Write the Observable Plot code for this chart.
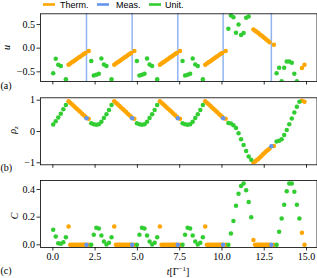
<!DOCTYPE html>
<html><head><meta charset="utf-8">
<script src="https://cdn.jsdelivr.net/npm/d3@7"></script>
<script src="https://cdn.jsdelivr.net/npm/@observablehq/plot@0.6"></script>
<style>
body{margin:0;background:#fff;}
#fig{position:relative;width:317px;height:278px;overflow:hidden;background:#fff;}
#fig svg{position:absolute;left:0;}
</style></head><body><div id="fig"></div>
<script>
// ---- data ----
const seriesNames = ["Therm.", "Meas.", "Unit."];
const xTicks = [0, 2.5, 5, 7.5, 10, 12.5, 15];
const uTicks = [-0.5, 0, 0.5];
const rhoTicks = [-1, 0, 1];
const cTicks = [0, 0.2, 0.4];

const unitT = [
 0.02,0.17,0.32,0.47,0.62,0.77,
 2.27,2.42,2.57,2.72,2.87,3.02,3.17,3.32,3.47,
 4.97,5.12,5.27,5.42,5.57,5.72,5.87,6.02,6.17,
 7.67,7.82,7.97,8.12,8.27,8.42,8.57,8.72,8.87,
 10.38,10.53,10.68,10.83,10.98,11.13,11.28,11.43,11.58,11.73,
 13.23,13.38,13.53,13.68,13.83,13.98,14.13,14.28,14.43,14.58];
const unitU = [
 -0.53,-0.225,-0.35,-0.38,null,-0.66,
 -0.27,-0.58,-0.56,-0.54,-0.22,-0.345,-0.38,null,-0.66,
 -0.27,-0.58,-0.56,-0.54,-0.22,-0.345,-0.38,null,-0.66,
 -0.27,-0.58,-0.56,-0.54,-0.22,-0.345,-0.38,null,-0.66,
 0.41,0.69,0.655,0.325,0.50,0.28,0.32,0.64,0.67,null,
 -0.53,-0.415,-0.70,-0.415,-0.28,-0.28,-0.31,-0.54,-0.70,null];
const unitRho = [
 0.22,0.33,0.45,0.565,0.71,0.85,
 0.26,0.235,0.215,0.235,0.31,0.43,0.555,0.69,0.85,
 0.26,0.235,0.215,0.235,0.31,0.43,0.555,0.69,0.85,
 0.26,0.235,0.215,0.235,0.31,0.43,0.555,0.69,0.85,
 0.27,0.256,0.20,0.11,-0.06,-0.245,-0.435,-0.62,-0.80,-0.905,
 -0.32,-0.30,-0.245,-0.115,0.045,0.235,0.415,0.61,0.79,0.95];
const unitC = [
 0.108,0.06,0.012,0.007,0.019,0.055,
 0.0,0.072,0.123,0.118,0.067,0.024,0.003,0.014,0.055,
 0.0,0.072,0.123,0.118,0.067,0.024,0.003,0.014,0.055,
 0.0,0.072,0.123,0.118,0.067,0.024,0.003,0.014,0.055,
 0.0,0.082,0.173,0.282,0.37,0.426,0.443,0.394,0.31,0.20,
 0.0,0.094,0.19,0.29,0.387,0.443,0.443,0.383,0.29,0.19];

const thermT = [
 0.93,1.03,1.13,1.23,1.33,1.43,1.53,1.63,1.73,1.83,1.93,2.12,
 3.63,3.73,3.83,3.93,4.03,4.13,4.23,4.33,4.43,4.53,4.63,4.82,
 6.33,6.43,6.53,6.63,6.73,6.83,6.93,7.03,7.13,7.23,7.33,7.52,
 9.01,9.11,9.21,9.31,9.41,9.51,9.61,9.71,9.81,9.91,10.01,10.22,
 11.86,11.96,12.05,12.15,12.24,12.34,12.43,12.53,12.62,12.72,12.81,13.07,
 14.73,14.88];
const thermU = [
 -0.35,-0.325,-0.30,-0.275,-0.25,-0.225,-0.20,-0.175,-0.15,-0.125,-0.10,-0.06,
 -0.35,-0.325,-0.30,-0.275,-0.25,-0.225,-0.20,-0.175,-0.15,-0.125,-0.10,-0.06,
 -0.35,-0.325,-0.30,-0.275,-0.25,-0.225,-0.20,-0.175,-0.15,-0.125,-0.10,-0.06,
 -0.35,-0.325,-0.30,-0.275,-0.25,-0.225,-0.20,-0.175,-0.15,-0.125,-0.10,-0.06,
 0.395,0.37,0.345,0.32,0.29,0.265,0.24,0.21,0.185,0.155,0.127,0.07,
 -0.42,-0.35];
const thermRho = [
 0.97,0.92,0.87,0.82,0.77,0.72,0.67,0.62,0.57,0.52,0.47,0.41,
 0.97,0.92,0.87,0.82,0.77,0.72,0.67,0.62,0.57,0.52,0.47,0.41,
 0.97,0.92,0.87,0.82,0.77,0.72,0.67,0.62,0.57,0.52,0.47,0.41,
 0.97,0.92,0.87,0.82,0.77,0.72,0.67,0.62,0.57,0.52,0.47,0.41,
 -0.99,-0.96,-0.92,-0.88,-0.83,-0.78,-0.73,-0.68,-0.63,-0.59,-0.55,-0.46,
 0.98,0.95];
const thermC = [
 0.133,0,0,0,0,0,0,0,0,0,0,0,
 0.133,0,0,0,0,0,0,0,0,0,0,0,
 0.133,0,0,0,0,0,0,0,0,0,0,0,
 0.133,0,0,0,0,0,0,0,0,0,0,0,
 0.035,0,0,0,0,0,0,0,0,0,0,0,
 0.087,0];

const measT = [1.99, 4.69, 7.39, 10.07, 12.92];
const measRho = [0.42, 0.42, 0.42, 0.42, -0.47];
const measC = [0, 0, 0, 0, 0];

// ---- tables ----
const unit = unitT.map((t, i) => ({t, u: unitU[i], rho: unitRho[i], C: unitC[i]}));
const therm = thermT.map((t, i) => ({t, u: thermU[i], rho: thermRho[i], C: thermC[i]}));
const meas = measT.map((t, i) => ({t, rho: measRho[i], C: measC[i]}));

const ORANGE = "#FFA500", BLUE = "#6495ED", GREEN = "#32CD32";
const colors = [ORANGE, BLUE, GREEN];
const serif = "'Liberation Serif', 'DejaVu Serif', serif";
const R = 2.25;
const fig = document.getElementById("fig");

function panel({top, height, mt, mb, yDomain, yTicks, yFmt, xLabels, marks}) {
  const svg = Plot.plot({
    width: 317, height, marginLeft: 40, marginRight: 0.5, marginTop: mt, marginBottom: mb,
    style: {fontFamily: serif, fontSize: "10px", color: "#000", background: "transparent", overflow: "visible"},
    x: {domain: [-0.73, 15.62]},
    y: {domain: yDomain},
    marks: [
      ...marks,
      Plot.frame({stroke: "#000", strokeWidth: 0.8}),
      Plot.axisY({ticks: yTicks, tickFormat: yFmt, tickSize: 3.5, tickPadding: 2, label: null, strokeWidth: 0.8}),
      Plot.axisX({ticks: xTicks, tickFormat: xLabels ? d3.format(".1f") : () => "", tickSize: 3.5, tickPadding: 2, label: null, strokeWidth: 0.8})
    ]
  });
  svg.style.top = top + "px";
  fig.appendChild(svg);
  return d3.select(svg);
}

function dots(data, y, fill) {
  return Plot.dot(data, {x: "t", y, r: R, fill, stroke: null, clip: true});
}

// (a)
const sa = panel({top: 0, height: 90, mt: 13.3, mb: 9, yDomain: [-0.705, 0.726], yTicks: uTicks,
  yFmt: d3.format(".1f"), xLabels: false,
  marks: [
    Plot.ruleX(measT, {stroke: BLUE, strokeOpacity: 0.7, strokeWidth: 1.5}),
    dots(therm, "u", ORANGE),
    dots(unit, "u", GREEN)
  ]});
// (b)
const sb = panel({top: 90, height: 84, mt: 7.3, mb: 9.7, yDomain: [-1.065, 1.077], yTicks: rhoTicks,
  yFmt: d3.format("d"), xLabels: false,
  marks: [dots(therm, "rho", ORANGE), dots(meas, "rho", BLUE), dots(unit, "rho", GREEN)]});
// (c)
const sc = panel({top: 174, height: 104, mt: 6, mb: 31, yDomain: [-0.0195, 0.465], yTicks: cTicks,
  yFmt: d3.format(".1f"), xLabels: true,
  marks: [dots(therm, "C", ORANGE), dots(meas, "C", BLUE), dots(unit, "C", GREEN)]});

// legend
const legX = [[43, 60], [97, 116], [149, 165]];
seriesNames.forEach((name, i) => {
  const [hx, tx] = legX[i];
  sa.append("line").attr("x1", hx).attr("x2", hx + 12).attr("y1", 4.5).attr("y2", 4.5)
    .attr("stroke", colors[i]).attr("stroke-width", 2.6);
  sa.append("text").attr("x", tx).attr("y", 8).attr("text-anchor", "start")
    .attr("font-family", "'Liberation Sans', Arial, sans-serif")
    .attr("font-size", 9).attr("fill", "#000").text(name);
});

// axis labels
function ylab(sel, x, y, parts) {
  const t = sel.append("text").attr("transform", `translate(${x},${y}) rotate(-90)`)
    .attr("text-anchor", "middle").attr("font-family", serif).attr("font-size", 10).attr("fill", "#000");
  parts.forEach(p => {
    const ts = t.append("tspan").text(p.s);
    if (p.it) ts.attr("font-style", "italic");
    if (p.fs) ts.attr("font-size", p.fs);
    if (p.dy) ts.attr("dy", p.dy);
  });
  return t;
}
ylab(sa, 9.5, 47.5, [{s: "u", it: true}]);
ylab(sb, 16, 130 - 90, [{s: "ρ", it: true}, {s: "z", it: true, fs: 7, dy: 2}]);
ylab(sc, 17.5, 216 - 174, [{s: "C", it: true}]);

function plain(sel, x, y, s) {
  sel.append("text").attr("x", x).attr("y", y).attr("text-anchor", "start")
    .attr("font-family", serif).attr("font-size", 10).attr("fill", "#000").text(s);
}
plain(sa, 0.5, 88.5, "(a)");
plain(sb, 0.5, 170.5 - 90, "(b)");
plain(sc, 0.5, 273.5 - 174, "(c)");

// x label t[Γ^{-1}]
const xl = sc.append("text").attr("x", 178).attr("y", 275 - 174).attr("text-anchor", "middle")
  .attr("font-family", serif).attr("font-size", 10).attr("fill", "#000");
xl.append("tspan").attr("font-style", "italic").text("t");
xl.append("tspan").text("[Γ");
xl.append("tspan").attr("font-size", 7).attr("dy", -4).text("−1");
xl.append("tspan").attr("dy", 4).text("]");
</script></body></html>
